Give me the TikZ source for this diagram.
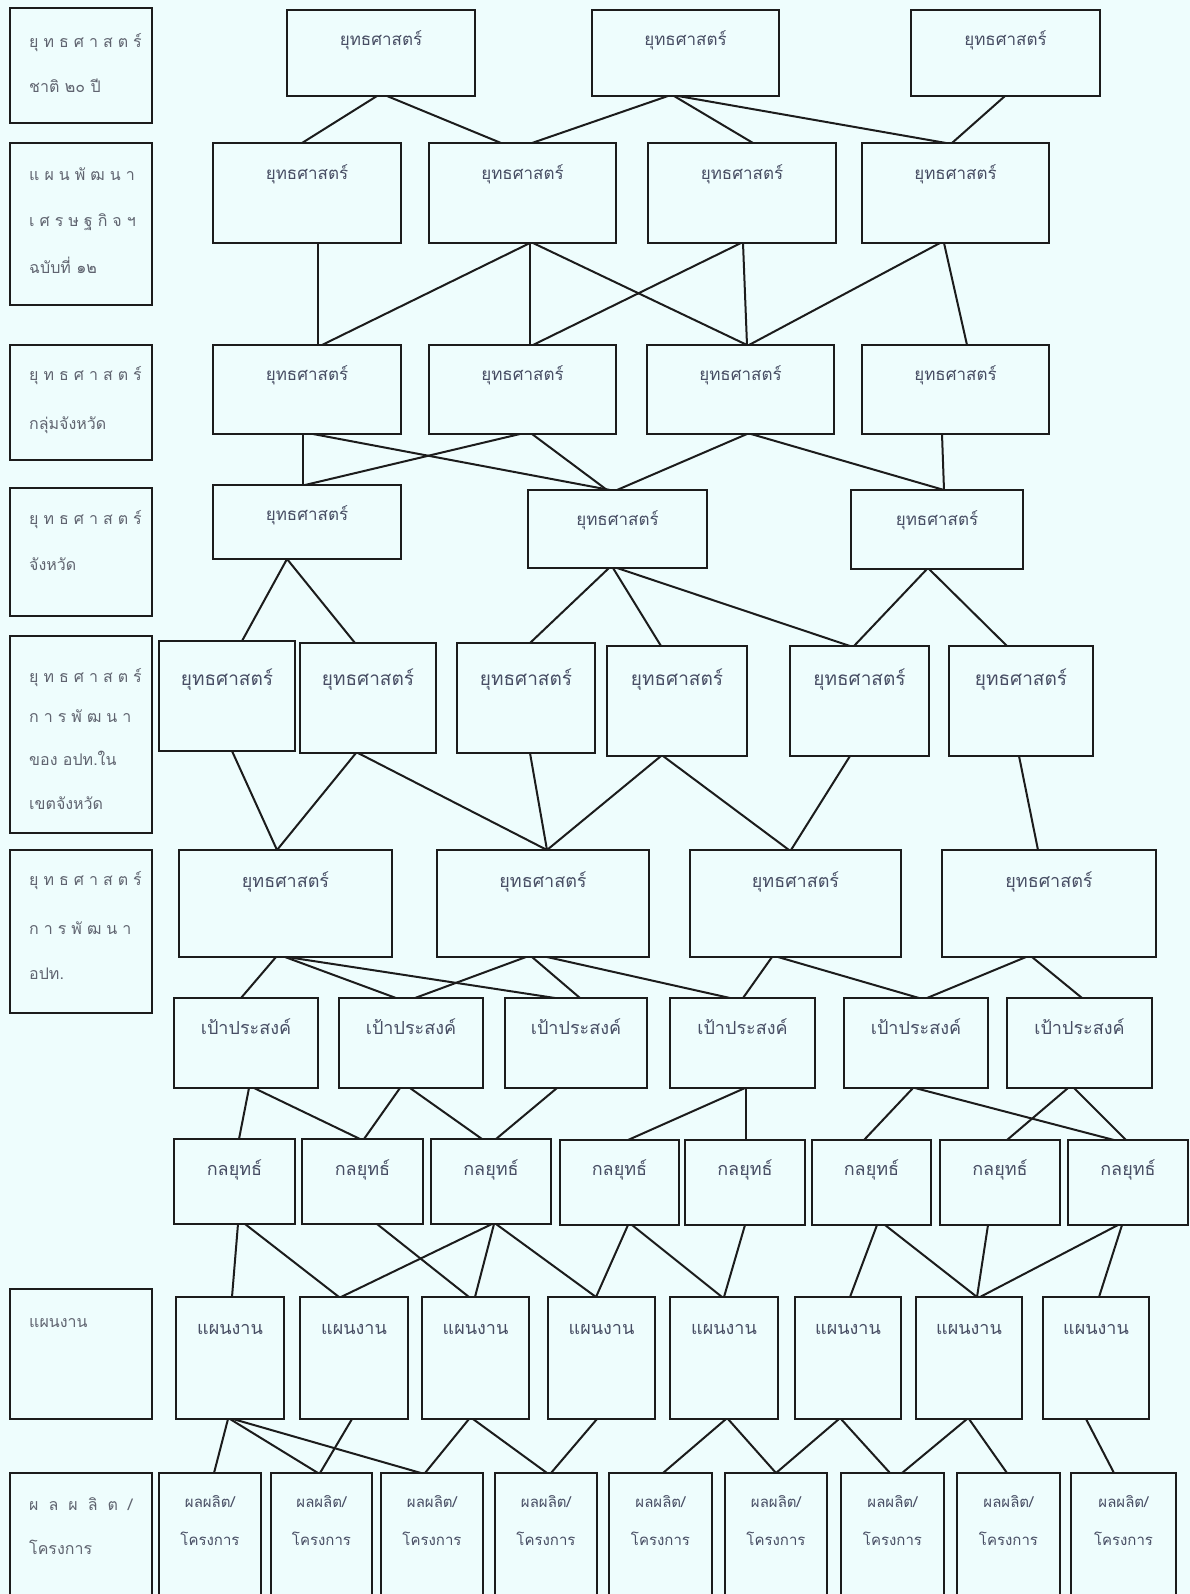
\documentclass[tikz,border=0pt]{standalone}
\usepackage{fontspec}
\newfontfamily\thai[Script=Thai]{Loma}
\usetikzlibrary{calc,fit}
\definecolor{bgc}{RGB}{238,253,253}
\definecolor{linec}{RGB}{28,28,28}
\definecolor{boxtext}{RGB}{72,78,100}
\definecolor{labtext}{RGB}{96,100,112}
\newcommand\ls{\kern5pt}
\newcommand\lw{\kern10pt}
\tikzset{
  box/.style={draw=linec, line width=2.2pt, inner sep=0pt, outer sep=0pt},
  conn/.style={draw=linec, line width=2pt},
  bt/.style={text=boxtext, inner sep=0pt, text height=0.75em, text depth=0.25em},
  tsA/.style={bt, font=\thai\fontsize{17}{20}\selectfont},
  tsD/.style={bt, font=\thai\fontsize{19}{22}\selectfont},
  tsE/.style={bt, font=\thai\fontsize{18}{21}\selectfont},
  tsF/.style={bt, font=\thai\fontsize{18}{21}\selectfont},
  tsG/.style={bt, font=\thai\fontsize{18}{21}\selectfont},
  tsH/.style={bt, font=\thai\fontsize{18}{21}\selectfont},
  tsI/.style={bt, font=\thai\fontsize{15}{18}\selectfont},
  lab/.style={text=labtext, inner sep=0pt, anchor=west, text height=0.75em, text depth=0.25em, font=\thai\fontsize{16}{19}\selectfont},
}
% box with one text line
\newcommand\bxt[8]{%
  \node[box, fit={(#2,#3) (#4,#5)}] (#1) {};
  \node[#7] (#1t) at ({(#2+#4)/2},#6) {#8};}
\newcommand\bxo[3]{\node[box, fit={#2 #3}] (#1) {};}
\newcommand\cn[4]{\draw[conn] let \p1=(#1.south), \p2=(#3.north) in (#2pt,\y1) -- (#4pt,\y2);}
\begin{document}
\begin{tikzpicture}[x=1pt,y=-1pt]
\useasboundingbox (0,0) rectangle (1190,1594);
\fill[bgc] (0,0) rectangle (1190,1594);
\clip (0,0) rectangle (1190,1594);

% ---- left column labels
\bxo{L1}{(10,8)}{(152,123)}
\node[lab] (L1a) at (29,45) {ยุ\ls ท\ls ธ\ls ศ\ls า\ls ส\ls ต\ls ร์};
\node[lab] (L1b) at (29,90) {ชาติ ๒๐ ปี};
\bxo{L2}{(10,143)}{(152,305)}
\node[lab] (L2a) at (29,178) {แ\ls ผ\ls น\ls พั\ls ฒ\ls น\ls า};
\node[lab] (L2b) at (29,224) {เ\ls ศ\ls ร\ls ษ\ls ฐ\ls กิ\ls จ\ls ฯ};
\node[lab] (L2c) at (29,271) {ฉบับที่ ๑๒};
\bxo{L3}{(10,345)}{(152,460)}
\node[lab] (L3a) at (29,378) {ยุ\ls ท\ls ธ\ls ศ\ls า\ls ส\ls ต\ls ร์};
\node[lab] (L3b) at (29,427) {กลุ่มจังหวัด};
\bxo{L4}{(10,488)}{(152,616)}
\node[lab] (L4a) at (29,522) {ยุ\ls ท\ls ธ\ls ศ\ls า\ls ส\ls ต\ls ร์};
\node[lab] (L4b) at (29,568) {จังหวัด};
\bxo{L5}{(10,636)}{(152,833)}
\node[lab] (L5a) at (29,680) {ยุ\ls ท\ls ธ\ls ศ\ls า\ls ส\ls ต\ls ร์};
\node[lab] (L5b) at (29,720) {ก\ls า\ls ร\ls พั\ls ฒ\ls น\ls า};
\node[lab] (L5c) at (29,763) {ของ อปท.ใน};
\node[lab] (L5d) at (29,807) {เขตจังหวัด};
\bxo{L6}{(10,850)}{(152,1013)}
\node[lab] (L6a) at (29,883) {ยุ\ls ท\ls ธ\ls ศ\ls า\ls ส\ls ต\ls ร์};
\node[lab] (L6b) at (29,932) {ก\ls า\ls ร\ls พั\ls ฒ\ls น\ls า};
\node[lab] (L6c) at (29,977) {อปท.};
\bxo{L7}{(10,1289)}{(152,1419)}
\node[lab] (L7a) at (29,1325) {แผนงาน};
\bxo{L8}{(10,1473)}{(152,1610)}
\node[lab] (L8a) at (29,1508) {ผ\lw ล\lw ผ\lw ลิ\lw ต\lw /};
\node[lab] (L8b) at (29,1552) {โครงการ};

% ---- row T
\bxt{T1}{287}{10}{475}{96}{43}{tsA}{ยุทธศาสตร์}
\bxt{T2}{592}{10}{779}{96}{43}{tsA}{ยุทธศาสตร์}
\bxt{T3}{911}{10}{1100}{96}{43}{tsA}{ยุทธศาสตร์}
% ---- row A
\bxt{A1}{213}{143}{401}{243}{177}{tsA}{ยุทธศาสตร์}
\bxt{A2}{429}{143}{616}{243}{177}{tsA}{ยุทธศาสตร์}
\bxt{A3}{648}{143}{836}{243}{177}{tsA}{ยุทธศาสตร์}
\bxt{A4}{862}{143}{1049}{243}{177}{tsA}{ยุทธศาสตร์}
% ---- row B
\bxt{B1}{213}{345}{401}{434}{378}{tsA}{ยุทธศาสตร์}
\bxt{B2}{429}{345}{616}{434}{378}{tsA}{ยุทธศาสตร์}
\bxt{B3}{647}{345}{834}{434}{378}{tsA}{ยุทธศาสตร์}
\bxt{B4}{862}{345}{1049}{434}{378}{tsA}{ยุทธศาสตร์}
% ---- row C
\bxt{C1}{213}{485}{401}{559}{518}{tsA}{ยุทธศาสตร์}
\bxt{C2}{528}{490}{707}{568}{523}{tsA}{ยุทธศาสตร์}
\bxt{C3}{851}{490}{1023}{569}{523}{tsA}{ยุทธศาสตร์}
% ---- row D
\bxt{D1}{159}{641}{295}{751}{683}{tsD}{ยุทธศาสตร์}
\bxt{D2}{300}{643}{436}{753}{683}{tsD}{ยุทธศาสตร์}
\bxt{D3}{457}{643}{595}{753}{683}{tsD}{ยุทธศาสตร์}
\bxt{D4}{607}{646}{747}{756}{683}{tsD}{ยุทธศาสตร์}
\bxt{D5}{790}{646}{929}{756}{683}{tsD}{ยุทธศาสตร์}
\bxt{D6}{949}{646}{1093}{756}{683}{tsD}{ยุทธศาสตร์}
% ---- row E
\bxt{E1}{179}{850}{392}{957}{885}{tsE}{ยุทธศาสตร์}
\bxt{E2}{437}{850}{649}{957}{885}{tsE}{ยุทธศาสตร์}
\bxt{E3}{690}{850}{901}{957}{885}{tsE}{ยุทธศาสตร์}
\bxt{E4}{942}{850}{1156}{957}{885}{tsE}{ยุทธศาสตร์}
% ---- row F
\bxt{F1}{174}{998}{318}{1088}{1032}{tsF}{เป้าประสงค์}
\bxt{F2}{339}{998}{483}{1088}{1032}{tsF}{เป้าประสงค์}
\bxt{F3}{505}{998}{647}{1088}{1032}{tsF}{เป้าประสงค์}
\bxt{F4}{670}{998}{815}{1088}{1032}{tsF}{เป้าประสงค์}
\bxt{F5}{844}{998}{988}{1088}{1032}{tsF}{เป้าประสงค์}
\bxt{F6}{1007}{998}{1152}{1088}{1032}{tsF}{เป้าประสงค์}
% ---- row G
\bxt{G1}{174}{1139}{295}{1224}{1173}{tsG}{กลยุทธ์}
\bxt{G2}{302}{1139}{423}{1224}{1173}{tsG}{กลยุทธ์}
\bxt{G3}{431}{1139}{551}{1224}{1173}{tsG}{กลยุทธ์}
\bxt{G4}{560}{1140}{679}{1225}{1173}{tsG}{กลยุทธ์}
\bxt{G5}{685}{1140}{805}{1225}{1173}{tsG}{กลยุทธ์}
\bxt{G6}{812}{1140}{931}{1225}{1173}{tsG}{กลยุทธ์}
\bxt{G7}{940}{1140}{1060}{1225}{1173}{tsG}{กลยุทธ์}
\bxt{G8}{1068}{1140}{1188}{1225}{1173}{tsG}{กลยุทธ์}
% ---- row H
\bxt{H1}{176}{1297}{284}{1419}{1332}{tsH}{แผนงาน}
\bxt{H2}{300}{1297}{408}{1419}{1332}{tsH}{แผนงาน}
\bxt{H3}{422}{1297}{529}{1419}{1332}{tsH}{แผนงาน}
\bxt{H4}{548}{1297}{655}{1419}{1332}{tsH}{แผนงาน}
\bxt{H5}{670}{1297}{778}{1419}{1332}{tsH}{แผนงาน}
\bxt{H6}{795}{1297}{901}{1419}{1332}{tsH}{แผนงาน}
\bxt{H7}{916}{1297}{1022}{1419}{1332}{tsH}{แผนงาน}
\bxt{H8}{1043}{1297}{1149}{1419}{1332}{tsH}{แผนงาน}
% ---- row I
\foreach \n/\a/\b in {I1/159/261, I2/271/372, I3/381/483, I4/495/597, I5/609/712, I6/725/827, I7/841/944, I8/957/1060, I9/1071/1176}{
  \node[box, fit={(\a,1473) (\b,1610)}] (\n) {};
  \node[tsI] (\n t) at ({(\a+\b)/2},1505) {ผลผลิต/};
  \node[tsI] (\n u) at ({(\a+\b)/2},1543) {โครงการ};
}

% ---- connectors T -> A
\cn{T1}{377}{A1}{302}
\cn{T1}{387}{A2}{501}
\cn{T2}{668}{A2}{532}
\cn{T2}{674}{A3}{753}
\cn{T2}{678}{A4}{946}
\cn{T3}{1005}{A4}{952}
% A -> B
\cn{A1}{318}{B1}{318}
\cn{A2}{530}{B1}{322}
\cn{A2}{530}{B2}{530}
\cn{A2}{533}{B3}{747}
\cn{A3}{741}{B2}{533}
\cn{A3}{743}{B3}{747}
\cn{A4}{940}{B3}{749}
\cn{A4}{944}{B4}{967}
% B -> C
\cn{B1}{303}{C1}{303}
\cn{B1}{313}{C2}{610}
\cn{B2}{520}{C1}{305}
\cn{B2}{532}{C2}{607}
\cn{B3}{747}{C2}{617}
\cn{B3}{751}{C3}{944}
\cn{B4}{942}{C3}{944}
% C -> D
\cn{C1}{287}{D1}{242}
\cn{C1}{287}{D2}{355}
\cn{C2}{609}{D3}{530}
\cn{C2}{613}{D4}{661}
\cn{C2}{617}{D5}{850}
\cn{C3}{927}{D5}{854}
\cn{C3}{929}{D6}{1007}
% D -> E
\cn{D1}{232}{E1}{277}
\cn{D2}{356}{E1}{277}
\cn{D2}{358}{E2}{547}
\cn{D3}{530}{E2}{547}
\cn{D4}{661}{E2}{547}
\cn{D4}{663}{E3}{789}
\cn{D5}{850}{E3}{791}
\cn{D6}{1019}{E4}{1038}
% E -> F
\cn{E1}{276}{F1}{241}
\cn{E1}{285}{F2}{396}
\cn{E1}{287}{F3}{555}
\cn{E2}{526}{F2}{415}
\cn{E2}{532}{F3}{580}
\cn{E2}{547}{F4}{730}
\cn{E3}{772}{F4}{743}
\cn{E3}{778}{F5}{919}
\cn{E4}{1026}{F5}{927}
\cn{E4}{1032}{F6}{1082}
% F -> G
\cn{F1}{249}{G1}{239}
\cn{F1}{254}{G2}{360}
\cn{F2}{400}{G2}{364}
\cn{F2}{410}{G3}{482}
\cn{F3}{557}{G3}{496}
\cn{F4}{745}{G4}{628}
\cn{F4}{746}{G5}{746}
\cn{F5}{913}{G6}{864}
\cn{F5}{915}{G8}{1114}
\cn{F6}{1068}{G7}{1007}
\cn{F6}{1074}{G8}{1126}
% G -> H
\cn{G1}{238}{H1}{232}
\cn{G1}{245}{H2}{339}
\cn{G2}{377}{H3}{469}
\cn{G3}{492}{H2}{341}
\cn{G3}{494}{H3}{475}
\cn{G3}{496}{H4}{596}
\cn{G4}{628}{H4}{596}
\cn{G4}{632}{H5}{722}
\cn{G5}{745}{H5}{724}
\cn{G6}{877}{H6}{850}
\cn{G6}{885}{H7}{977}
\cn{G7}{988}{H7}{977}
\cn{G8}{1118}{H7}{980}
\cn{G8}{1122}{H8}{1099}
% H -> I
\cn{H1}{228}{I1}{214}
\cn{H1}{230}{I2}{318}
\cn{H1}{233}{I3}{421}
\cn{H2}{352}{I2}{320}
\cn{H3}{469}{I3}{425}
\cn{H3}{473}{I4}{547}
\cn{H4}{597}{I4}{551}
\cn{H5}{726}{I5}{663}
\cn{H5}{728}{I6}{776}
\cn{H6}{839}{I6}{776}
\cn{H6}{841}{I7}{890}
\cn{H7}{967}{I7}{902}
\cn{H7}{969}{I8}{1007}
\cn{H8}{1086}{I9}{1114}
\end{tikzpicture}
\end{document}
